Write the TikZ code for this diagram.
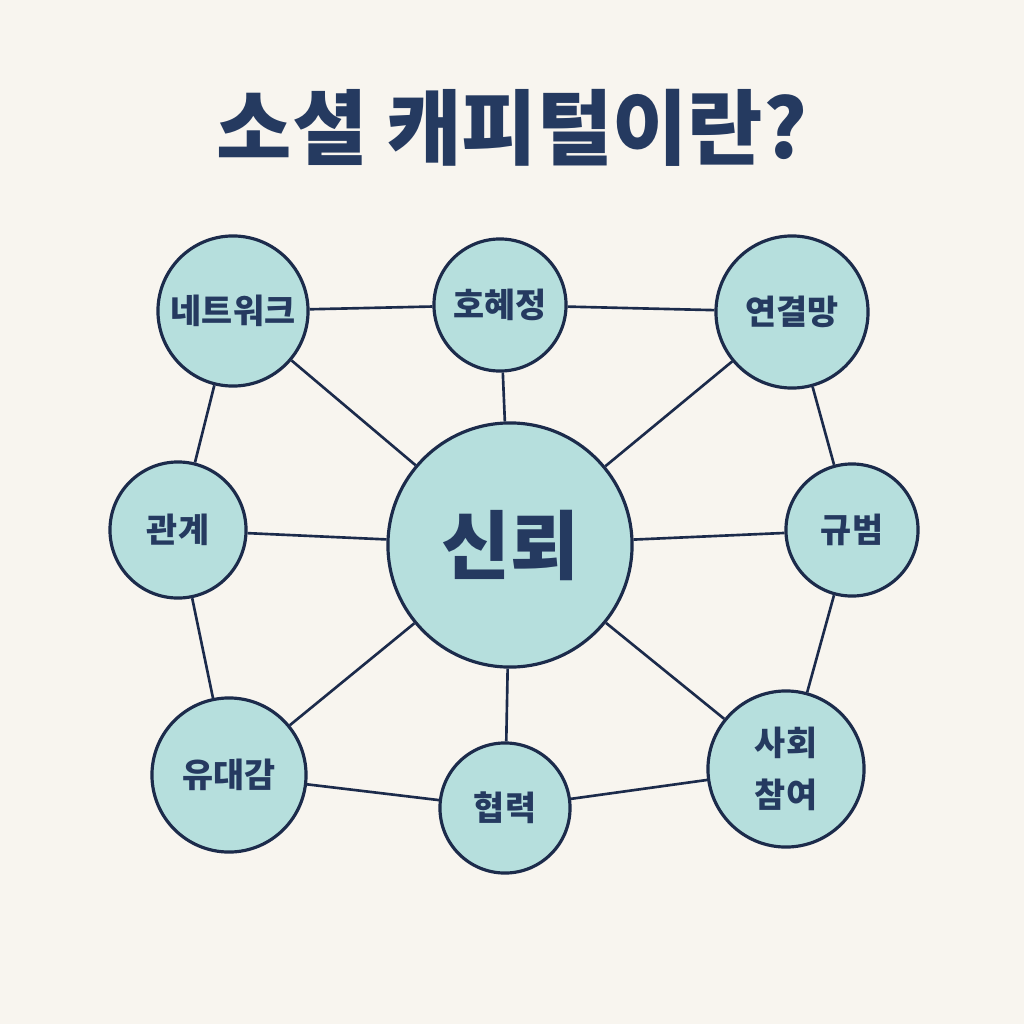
\documentclass[tikz,border=0pt]{standalone}
\usepackage{fontspec}
\newfontfamily\krfont{Noto Sans CJK KR}
\usetikzlibrary{positioning}
\definecolor{bgcream}{HTML}{F8F5EF}
\definecolor{linenavy}{HTML}{1C2B4B}
\definecolor{tealfill}{HTML}{B6DFDD}
\definecolor{textnavy}{HTML}{253A60}

\begin{document}
\begin{tikzpicture}[x=0.01cm,y=-0.01cm,
    bubble/.style={circle, draw=linenavy, line width=0.9pt, fill=tealfill, text=textnavy, inner sep=0pt, align=center,
      font=\krfont\bfseries\fontsize{9.6}{14.6}\selectfont},
    link/.style={linenavy, line width=0.75pt}]
    \fill[bgcream] (0,0) rectangle (1024,1024);
    \useasboundingbox (0,0) rectangle (1024,1024);

    % title
    \node[text=textnavy, font=\krfont\bfseries\fontsize{23.3}{28}\selectfont] (title) at (512,128) {소셜 캐피털이란?};

    % centre
    \node[bubble, minimum size=2.44cm, font=\krfont\bfseries\fontsize{21.3}{26}\selectfont] (trust) at (510,545) {신뢰};

    % outer ring
    \node[bubble, minimum size=1.50cm] (network) at (233,311) {네트워크};
    \node[bubble, minimum size=1.32cm] (recip) at (500,305) {호혜정};
    \node[bubble, minimum size=1.52cm] (ties) at (792,312) {연결망};
    \node[bubble, minimum size=1.36cm] (relation) at (178,530) {관계};
    \node[bubble, minimum size=1.32cm] (norms) at (852,530) {규범};
    \node[bubble, minimum size=1.54cm] (bond) at (229,775) {유대감};
    \node[bubble, minimum size=1.30cm] (coop) at (505,808) {협력};
    \node[bubble, minimum size=1.56cm] (civic) at (786,769) {사회\\참여};

    % spokes
    \foreach \n in {network,recip,ties,relation,norms,bond,coop,civic}
        \draw[link] (trust) -- (\n);

    % rim
    \draw[link] (network) -- (recip) -- (ties) -- (norms) -- (civic) -- (coop) -- (bond) -- (relation) -- (network);
\end{tikzpicture}
\end{document}
